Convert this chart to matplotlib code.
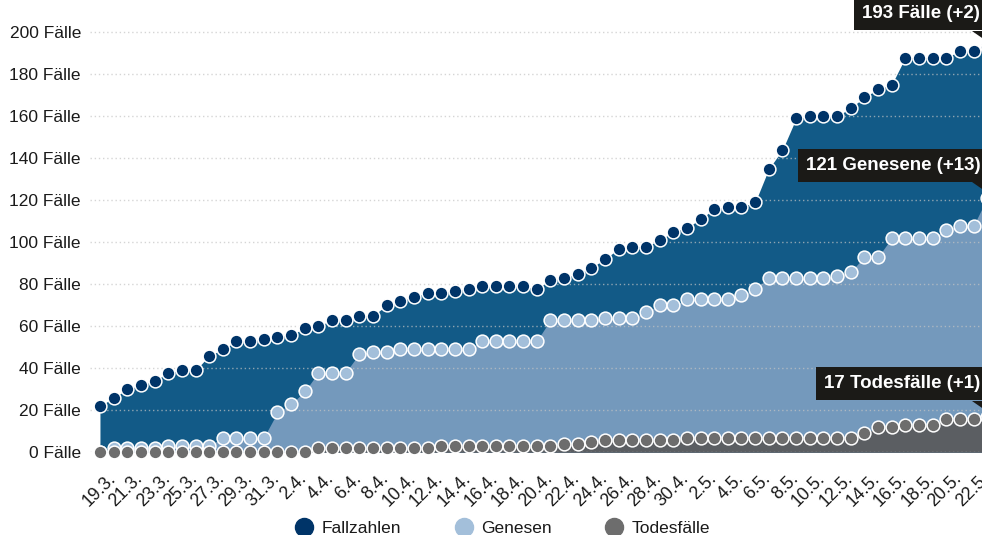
import matplotlib
matplotlib.use("Agg")
import matplotlib.pyplot as plt
import matplotlib.transforms as mtransforms
from matplotlib.lines import Line2D
from matplotlib.patches import Polygon
import pandas as pd

plt.rcParams["font.family"] = ["Liberation Sans", "DejaVu Sans"]

# daily values 19.3. - 23.5.
dates = pd.date_range("2020-03-19", "2020-05-23", freq="D")
day_labels = [f"{d.day}.{d.month}." for d in dates]

faelle = [22, 26, 30, 32, 34, 38, 39, 39, 46, 49,
          53, 53, 54, 55, 56, 59, 60, 63, 63, 65,
          65, 70, 72, 74, 76, 76, 77, 78, 79, 79,
          79, 79, 78, 82, 83, 85, 88, 92, 97, 98,
          98, 101, 105, 107, 111, 116, 117, 117, 119, 135,
          144, 159, 160, 160, 160, 164, 169, 173, 175, 188,
          188, 188, 188, 191, 191, 193]
genesen = [0, 2, 2, 2, 2, 3, 3, 3, 3, 7,
           7, 7, 7, 19, 23, 29, 38, 38, 38, 47,
           48, 48, 49, 49, 49, 49, 49, 49, 53, 53,
           53, 53, 53, 63, 63, 63, 63, 64, 64, 64,
           67, 70, 70, 73, 73, 73, 73, 75, 78, 83,
           83, 83, 83, 83, 84, 86, 93, 93, 102, 102,
           102, 102, 106, 108, 108, 121]
todesfaelle = [0, 0, 0, 0, 0, 0, 0, 0, 0, 0,
               0, 0, 0, 0, 0, 0, 2, 2, 2, 2,
               2, 2, 2, 2, 2, 3, 3, 3, 3, 3,
               3, 3, 3, 3, 4, 4, 5, 6, 6, 6,
               6, 6, 6, 7, 7, 7, 7, 7, 7, 7,
               7, 7, 7, 7, 7, 7, 9, 12, 12, 13,
               13, 13, 16, 16, 16, 17]

series_names = ["Fallzahlen", "Genesen", "Todesfälle"]
fill_colors = ["#125a87", "#7499bc", "#5b5e62"]
dot_colors = ["#003468", "#a3bfda", "#6d6d6d"]
box_color = "#1b1a17"
text_color = "#1a1a1a"

fig = plt.figure(figsize=(9.82, 5.35), dpi=100)
ax = fig.add_axes([90 / 982, (535 - 452.3) / 535, 892 / 982, 430.5 / 535])

x = list(range(len(dates)))
all_series = [faelle, genesen, todesfaelle]

for i, (vals, fc, dc) in enumerate(zip(all_series, fill_colors, dot_colors)):
    ax.fill_between(x, 0, vals, color=fc, lw=0, zorder=1 + i * 0.1)
    ax.plot(x, vals, "o", ls="none", ms=9.2, mfc=dc, mec="white", mew=1.1,
            zorder=3 + i, clip_on=False)

ax.set_xlim(-0.73, 64.62)
ax.set_ylim(0, 205)

# grid on top of the areas, below the dots
ax.set_axisbelow(False)
ax.yaxis.grid(True, color="#c4c4c4", ls=(0, (1, 2)), lw=1, alpha=0.7)
ax.xaxis.grid(False)
for s in ax.spines.values():
    s.set_visible(False)

yticks = list(range(0, 201, 20))
ax.set_yticks(yticks)
ax.set_yticklabels([f"{v} Fälle" for v in yticks], fontsize=12.5, color=text_color)
ax.tick_params(axis="y", length=0, pad=6.5)

ax.set_xticks(x[::2])
ax.set_xticklabels(day_labels[::2], fontsize=12.8, color=text_color, rotation=45,
                   ha="right", va="center", rotation_mode="anchor")
ax.tick_params(axis="x", length=0, pad=0)
shift = mtransforms.ScaledTranslation(0.13, -0.24, fig.dpi_scale_trans)
for lbl in ax.get_xticklabels():
    lbl.set_transform(lbl.get_transform() + shift)

# labels at the last value
last = len(x) - 1
notes = [
    (faelle, f"{faelle[-1]} Fälle (+{faelle[-1] - faelle[-2]})"),
    (genesen, f"{genesen[-1]} Genesene (+{genesen[-1] - genesen[-2]})"),
    (todesfaelle, f"{todesfaelle[-1]} Todesfälle (+{todesfaelle[-1] - todesfaelle[-2]})"),
]
for vals, txt in notes:
    ax.annotate(txt, xy=(last, vals[-1]), xytext=(-7, 33), textcoords="offset pixels",
                ha="right", va="center", fontsize=13.5, fontweight="bold", color="white",
                bbox=dict(boxstyle="square,pad=0.42", fc=box_color, ec="none"),
                zorder=8, annotation_clip=False)
    tail = Polygon([(-15, 16), (-2, 16), (-2, 7)], closed=True, fc=box_color, ec="none",
                   transform=mtransforms.Affine2D()
                   + mtransforms.ScaledTranslation(last, vals[-1], ax.transData),
                   zorder=8)
    fig.add_artist(tail)

handles = [Line2D([], [], marker="o", ls="none", ms=13, mfc=c, mec=c) for c in dot_colors]
fig.legend(handles, series_names, loc="center", bbox_to_anchor=(502 / 982, 7 / 535),
           ncol=3, frameon=False, fontsize=12.5, handlelength=1.2, handletextpad=0.4,
           columnspacing=3.0, borderpad=0, labelcolor=text_color)

fig.savefig("out.png", dpi=100)
